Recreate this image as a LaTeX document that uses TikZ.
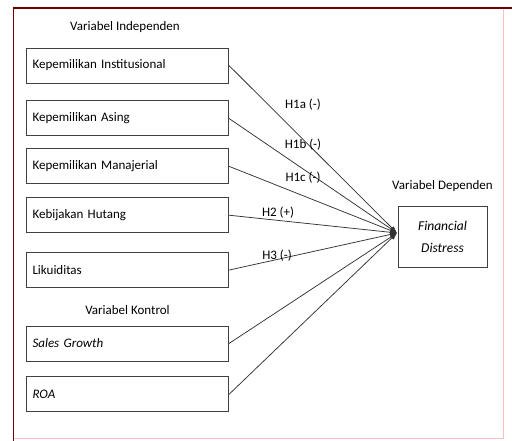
\documentclass[tikz,border=0pt]{standalone}
\usepackage{fontspec}
\setmainfont{Carlito}
\usetikzlibrary{arrows.meta,positioning}
\begin{document}
\begin{tikzpicture}[x=1pt, y=-1pt,
  font=\fontsize{13}{15}\selectfont,
  >={Latex[length=7pt,width=5pt]},
  var/.style={rectangle, draw=black!75, line width=0.9pt, text width=190pt,
              align=left, inner xsep=6pt, minimum height=35pt},
  dep/.style={rectangle, draw=black!75, line width=0.9pt, align=center,
              minimum width=89pt, minimum height=61pt,
              font=\itshape\fontsize{13.5}{22}\selectfont},
  head/.style={inner sep=1pt},
  hyp/.style={inner sep=1pt},
  flow/.style={->, draw=black!80, line width=0.75pt},
]
\useasboundingbox (0,0) rectangle (512,441);
% frame
\draw[red!25!white, line width=0.6pt] (13,8) rectangle (503,438);
\draw[red!45!black, line width=0.8pt] (13,8) -- (13,441);
\draw[red!40!black, line width=2pt] (13,8) -- (512,8);

% Independent variables
\node[head] (indep) at (125,27) {Variabel Independen};
\node[var] (inst) at (127.5,65.5) {Kepemilikan Institusional};
\node[var, below=17pt of inst] (asing) {Kepemilikan Asing};
\node[var, below=12pt of asing] (manaj) {Kepemilikan Manajerial};
\node[var, below=13pt of manaj] (hutang) {Kebijakan Hutang};
\node[var, below=19pt of hutang] (likuid) {Likuiditas};

% Control variables
\node[head, below=16pt of likuid] (kontrol) {Variabel Kontrol};
\node[var, below=10pt of kontrol] (sales) {\textit{Sales Growth}};
\node[var, below=15pt of sales] (roa) {\textit{ROA}};

% Dependent variable
\node[dep] (fd) at (442.5,236.5) {Financial\\Distress};
\node[head, above=13pt of fd] (dep) {Variabel Dependen};
\coordinate (hub) at (397,233);

\foreach \src in {inst,asing,manaj,hutang,likuid,sales,roa}
  \draw[flow] (\src.east) -- (hub);

% Hypotheses
\node[hyp] (h1a) at (303,105) {H1a (-)};
\node[hyp] (h1b) at (303,145) {H1b (-)};
\node[hyp] (h1c) at (303,178) {H1c (-)};
\node[hyp] (h2) at (278,213) {H2 (+)};
\node[hyp] (h3) at (277,256) {H3 (-)};
\end{tikzpicture}
\end{document}
